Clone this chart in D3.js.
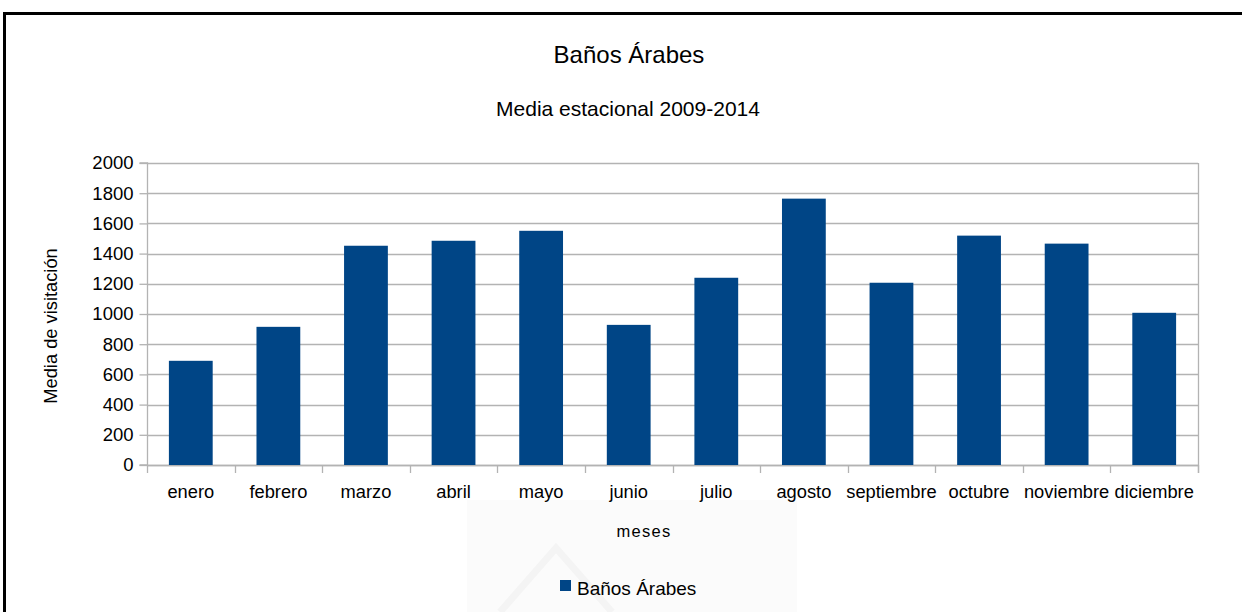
<!DOCTYPE html>
<html><head><meta charset="utf-8">
<script src="https://cdn.jsdelivr.net/npm/d3@7"></script>
<style>
html,body{margin:0;padding:0;background:#fff;}
svg text{font-family:"Liberation Sans",Arial,sans-serif;fill:#000;}
</style></head>
<body>
<svg id="c" width="1242" height="612"></svg>
<script>
const months = ["enero","febrero","marzo","abril","mayo","junio","julio","agosto","septiembre","octubre","noviembre","diciembre"];
const values = [690, 915, 1452, 1485, 1551, 928, 1240, 1764, 1207, 1519, 1466, 1008];
const yTicks = [0,200,400,600,800,1000,1200,1400,1600,1800,2000];
const seriesName = "Baños Árabes";
const title = "Baños Árabes";
const subtitle = "Media estacional 2009-2014";
const xTitle = "meses";
const yTitle = "Media de visitación";

const svg = d3.select("#c");
const W = 1242, H = 612;
const m = {left:147, right:1198, top:163, bottom:465};
const barColor = "#004586", gridColor = "#b3b3b3";

// watermark
svg.append("rect").attr("x",467).attr("y",500).attr("width",330).attr("height",112).attr("fill","#fbfbfb");
svg.append("path").attr("d","M500,612 L556,548 L612,612").attr("fill","none").attr("stroke","#f4f4f4").attr("stroke-width",7);

// border
svg.append("path").attr("d",`M4.5,${H+5} L4.5,13.5 L${W+5},13.5`).attr("fill","none").attr("stroke","#000").attr("stroke-width",3);

const x = d3.scaleBand().domain(months).range([m.left,m.right]).paddingInner(0.5).paddingOuter(0.25);
const y = d3.scaleLinear().domain([0,2000]).range([m.bottom,m.top]);

// grid
svg.append("g").selectAll("line").data(yTicks).join("line")
  .attr("x1",m.left).attr("x2",m.right).attr("y1",d=>Math.round(y(d))+0.5).attr("y2",d=>Math.round(y(d))+0.5)
  .attr("stroke",gridColor).attr("stroke-width",1.3);

// y axis
const ya = svg.append("g").attr("transform",`translate(${m.left+0.5},0)`)
  .call(d3.axisLeft(y).tickValues(yTicks).tickSize(8).tickPadding(6).tickFormat(d3.format("d")));
ya.select(".domain").attr("stroke",gridColor).attr("d",`M-8,${m.top}H0V${m.bottom}H-8`).attr("stroke-width",1.3);
ya.selectAll(".tick line").attr("stroke",gridColor).attr("stroke-width",1.3);
ya.selectAll(".tick text").style("font-size","18.5px").attr("fill","#000");

// right edge
svg.append("line").attr("x1",m.right+0.5).attr("x2",m.right+0.5).attr("y1",m.top).attr("y2",m.bottom+8).attr("stroke",gridColor).attr("stroke-width",1.3);

// x axis ticks at band boundaries
const step = x.step();
const bounds = d3.range(months.length+1).map(i => m.left + i*step);
svg.append("g").selectAll("line").data(bounds).join("line")
  .attr("x1",d=>Math.round(d)+0.5).attr("x2",d=>Math.round(d)+0.5).attr("y1",m.bottom).attr("y2",m.bottom+8)
  .attr("stroke",gridColor).attr("stroke-width",1.3);
svg.append("line").attr("x1",m.left).attr("x2",m.right).attr("y1",m.bottom+0.5).attr("y2",m.bottom+0.5).attr("stroke",gridColor).attr("stroke-width",1.3);

// bars
svg.append("g").selectAll("rect").data(values).join("rect")
  .attr("x",(d,i)=>x(months[i])).attr("width",x.bandwidth())
  .attr("y",d=>y(d)).attr("height",d=>y(0)-y(d)).attr("fill",barColor);

// x labels
svg.append("g").selectAll("text").data(months).join("text")
  .attr("x",d=>x(d)+x.bandwidth()/2).attr("y",498).attr("text-anchor","middle")
  .style("font-size","18.3px").text(d=>d);

// titles
svg.append("text").attr("x",629).attr("y",63).attr("text-anchor","middle").style("font-size","24px").text(title);
svg.append("text").attr("x",628).attr("y",116).attr("text-anchor","middle").style("font-size","21px").text(subtitle);
svg.append("text").attr("x",644).attr("y",537).attr("text-anchor","middle").style("font-size","16.5px").style("letter-spacing","1.3px").text(xTitle);
svg.append("text").attr("transform","translate(57,326) rotate(-90)").attr("text-anchor","middle").style("font-size","18.3px").text(yTitle);

// legend
svg.append("rect").attr("x",560).attr("y",580).attr("width",11).attr("height",11).attr("fill",barColor);
svg.append("text").attr("x",577).attr("y",595).style("font-size","19px").text(seriesName);
</script>
</body></html>
